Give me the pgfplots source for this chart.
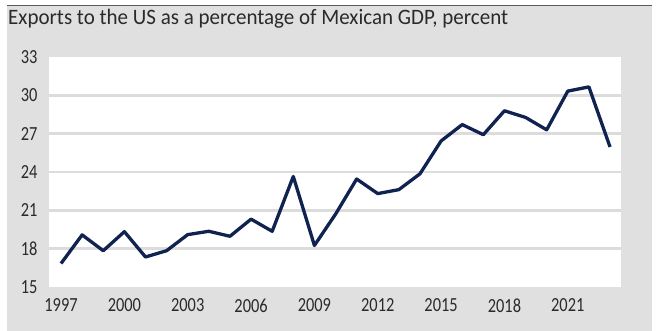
\documentclass[border=0pt]{standalone}
\usepackage{pgfplots}
\pgfplotsset{compat=1.18}
\usepackage{fontspec}
\setmainfont{Carlito}[FakeStretch=0.82]
\newfontfamily\titlefont{Carlito}[FakeStretch=0.955]
\definecolor{bggray}{HTML}{E0E0E0}
\definecolor{gridgray}{HTML}{DCDCDC}
\definecolor{navy}{HTML}{10224F}
\definecolor{txt}{HTML}{2A2A2A}
\begin{document}
\begin{tikzpicture}[x=1pt,y=1pt]
\useasboundingbox (0,0) rectangle (667,331);
\fill[bggray] (7,0) rectangle (652,325);
\draw[line width=1.5pt, color=black!65] (7,325.5) -- (652,325.5);
\node[anchor=base west, inner sep=0pt, font=\titlefont\fontsize{22}{24}\selectfont, text=txt] at (8,306) {Exports to the US as a percentage of Mexican GDP, percent};
\begin{axis}[
  at={(49pt,44pt)}, anchor=south west,
  width=572pt, height=230pt, scale only axis,
  xmin=1996.43, xmax=2023.52,
  ymin=15, ymax=33,
  axis background/.style={fill=white},
  axis line style={draw=none},
  major tick length=0pt,
  xtick={1997,2000,...,2021},
  ytick={18,21,...,30},
  extra y ticks={15,33},
  extra y tick style={grid=none},
  ymajorgrids,
  grid style={color=gridgray, line width=2.6pt},
  tick label style={font=\fontsize{20}{22}\selectfont, text=txt},
  /pgf/number format/assume math mode=true,
  /pgf/number format/1000 sep={},
  xticklabel style={yshift=-8pt},
  yticklabel style={xshift=-8pt},
  clip=false,
]
\addplot[color=navy, line width=3.3pt, line join=round] coordinates {
(1997,16.84) (1998,19.08) (1999,17.84) (2000,19.33) (2001,17.35)
(2002,17.84) (2003,19.10) (2004,19.36) (2005,18.97) (2006,20.31)
(2007,19.36) (2008,23.65) (2009,18.25) (2010,20.70) (2011,23.45)
(2012,22.31) (2013,22.62) (2014,23.86) (2015,26.43) (2016,27.71)
(2017,26.92) (2018,28.79) (2019,28.27) (2020,27.30) (2021,30.33)
(2022,30.66) (2023,25.96)
};
\end{axis}
\end{tikzpicture}
\end{document}
